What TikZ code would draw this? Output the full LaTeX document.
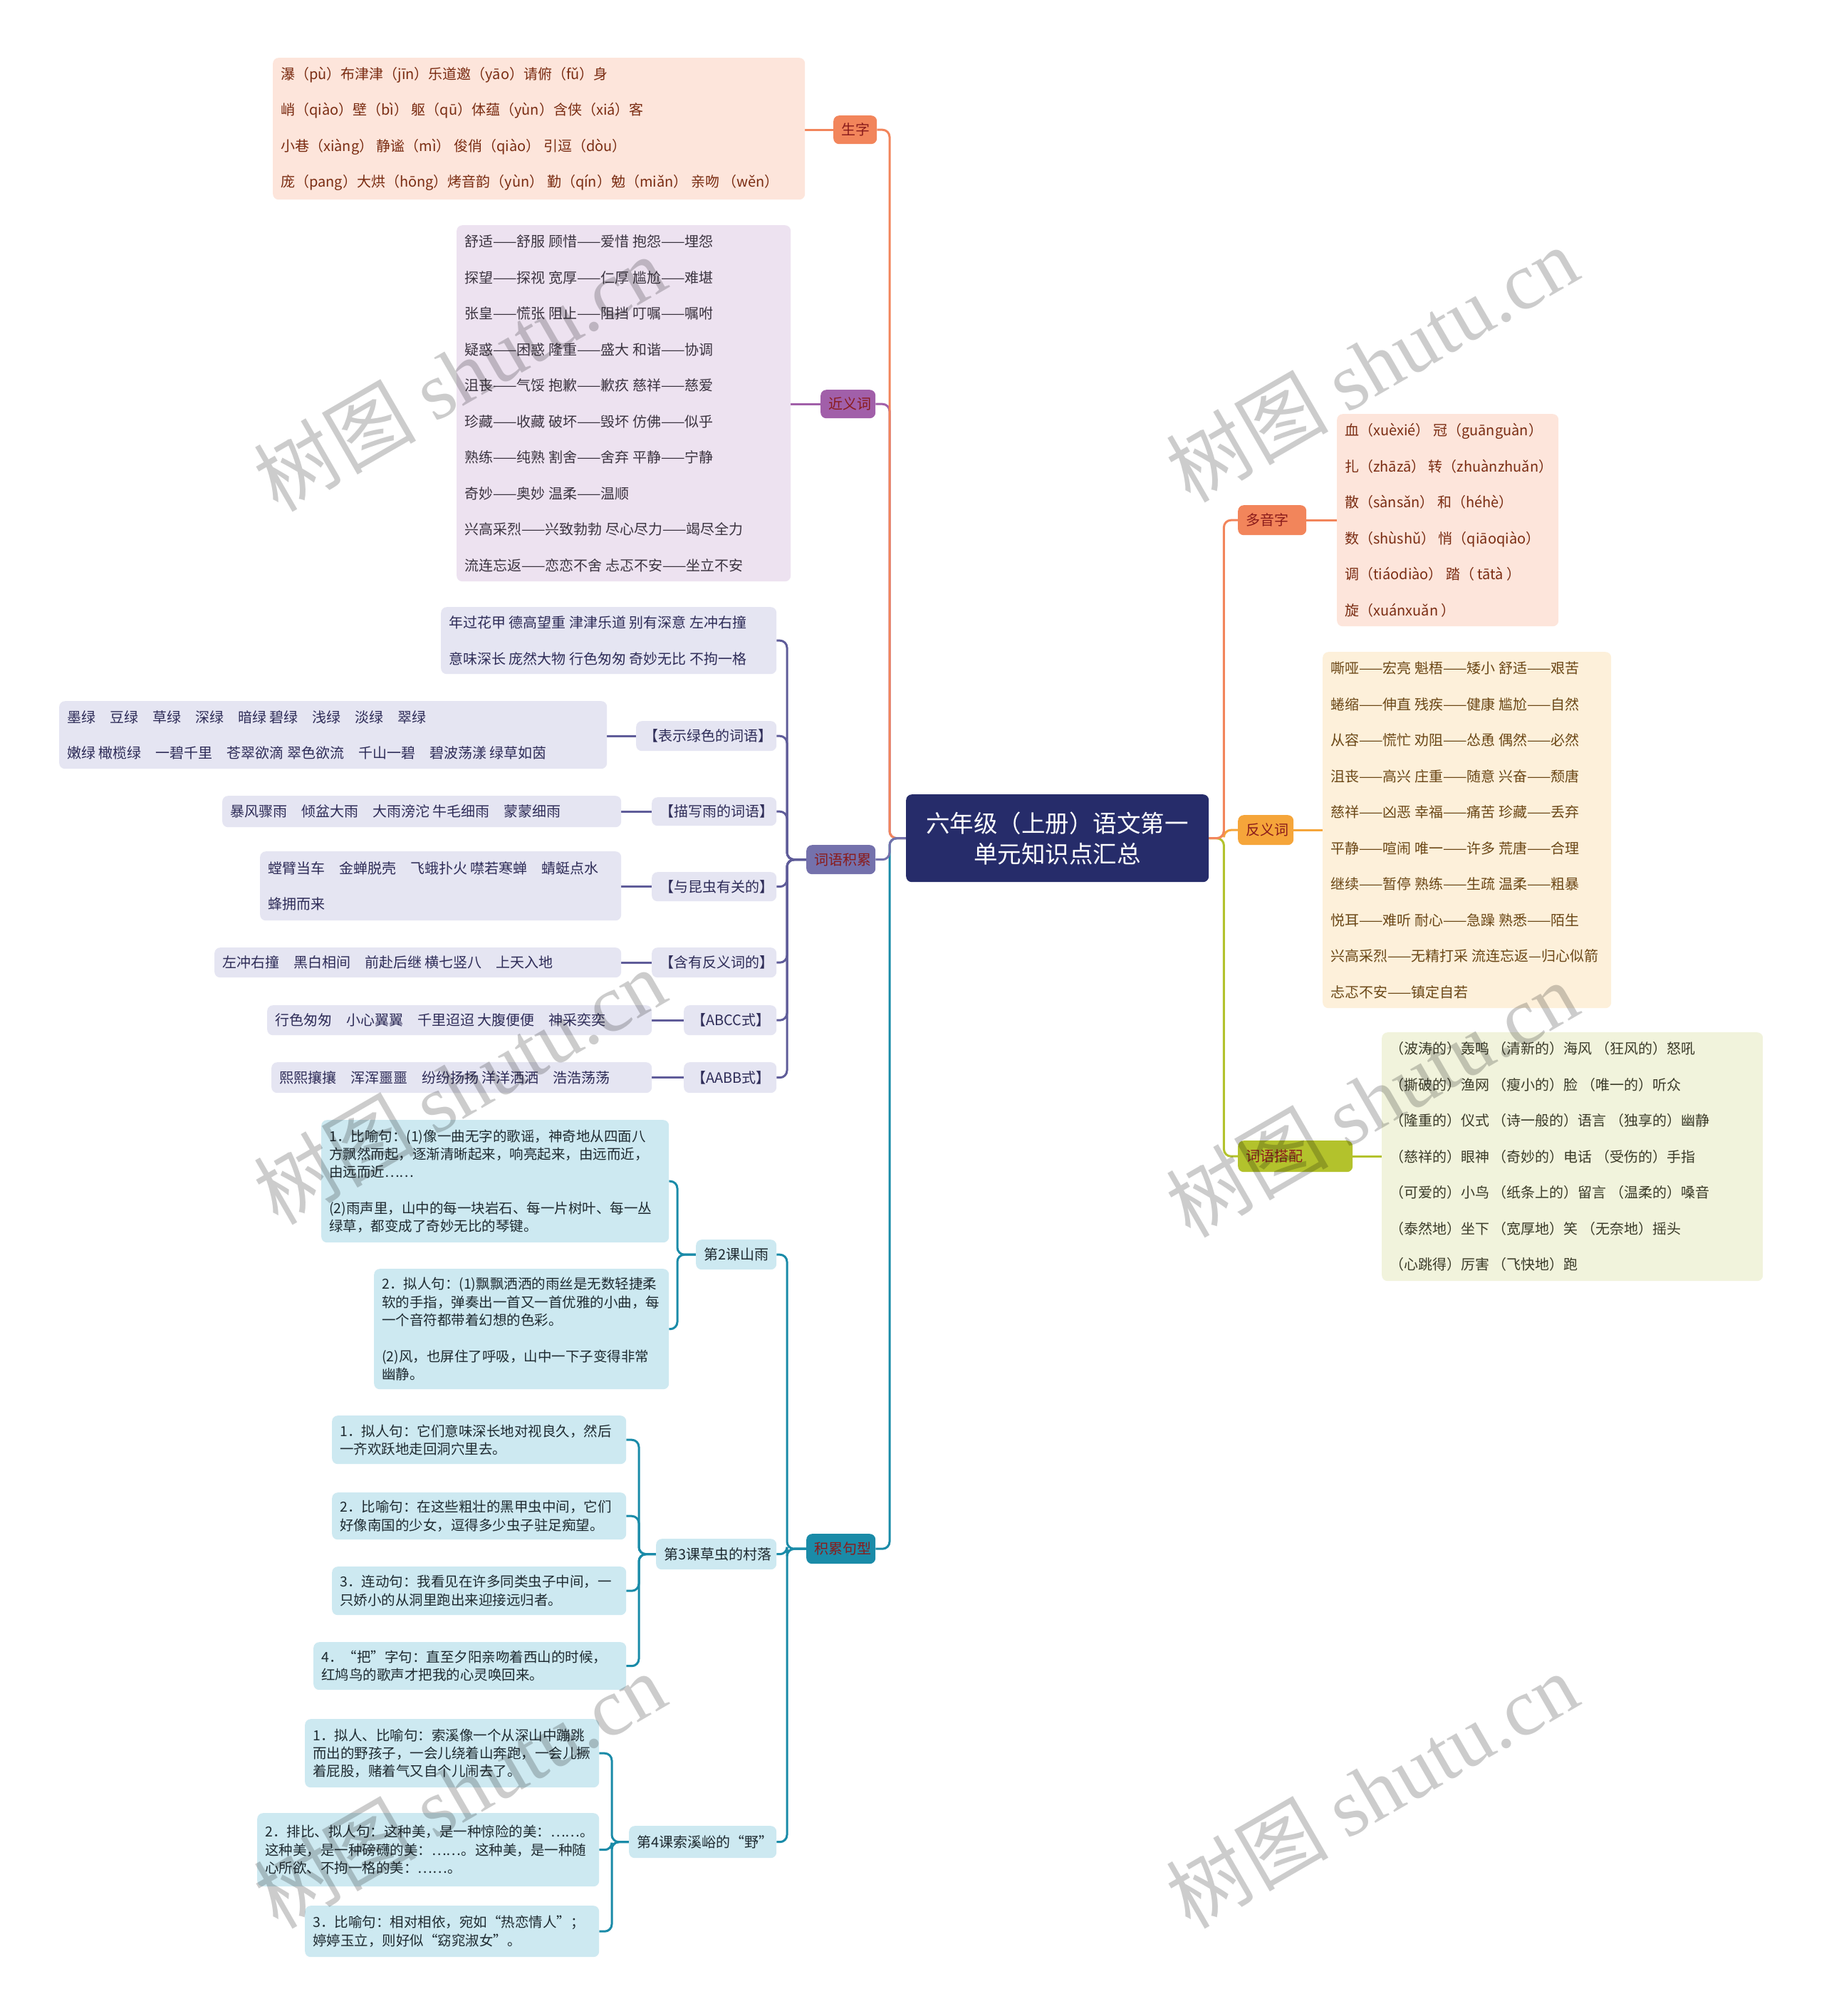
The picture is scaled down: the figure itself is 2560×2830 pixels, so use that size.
\documentclass[tikz,border=0pt]{standalone}
\usepackage{fontspec}
\setmainfont{Noto Sans CJK SC}
\newfontfamily\wmlatin{Liberation Serif}
\pgfdeclarelayer{bg}
\pgfsetlayers{bg,main}
\definecolor{navy}{HTML}{262C6A}
\definecolor{orangeA}{HTML}{F2855B}
\definecolor{peach}{HTML}{FDE5DB}
\definecolor{redtxt}{HTML}{7A2C12}
\definecolor{nodetxt}{HTML}{8A1B1B}
\definecolor{purpA}{HTML}{A15FA9}
\definecolor{lav}{HTML}{EDE2F0}
\definecolor{lavtxt}{HTML}{3B3440}
\definecolor{slateA}{HTML}{7471AC}
\definecolor{slateL}{HTML}{5F5C99}
\definecolor{slateBox}{HTML}{E5E5F2}
\definecolor{slatetxt}{HTML}{2E2C58}
\definecolor{tealA}{HTML}{1A8BA8}
\definecolor{tealBox}{HTML}{CDE9F1}
\definecolor{tealtxt}{HTML}{1E2A30}
\definecolor{amberA}{HTML}{F5A53A}
\definecolor{cream}{HTML}{FDF0DA}
\definecolor{browntxt}{HTML}{6B4716}
\definecolor{oliveA}{HTML}{B3C22C}
\definecolor{oliveBox}{HTML}{F1F3DC}
\definecolor{olivetxt}{HTML}{3A3A28}
\tikzset{
  boxbase/.style={anchor=north west, rounded corners=8pt, inner sep=0pt},
  wordfont/.style={font=\fontsize{20pt}{50.5pt}\selectfont},
  sentfont/.style={font=\fontsize{19.5pt}{25.3pt}\selectfont},
  labfont/.style={font=\fontsize{20pt}{24pt}\selectfont},
  conn/.style={line width=3pt, rounded corners=10pt},
  wmark/.style={rotate=30, text=black, opacity=0.2, inner sep=0pt, font=\fontsize{114pt}{116pt}\selectfont},
}
% #1 name, #2 x1, #3 y1, #4 x2, #5 y2, #6 box style, #7 text style, #8 text
\newcommand{\bx}[8]{%
  \pgfmathsetmacro\bxw{#4-#2}%
  \pgfmathsetmacro\bxh{#5-#3}%
  \node[boxbase,#6,minimum width=\bxw pt,minimum height=\bxh pt] (#1) at (#2,#3) {};%
  \node[anchor=west,inner sep=0pt,align=left,#7] (#1-t) at ([xshift=11pt]#1.west) {#8};%
}
\begin{document}
\begin{tikzpicture}[x=1pt,y=-1pt]
\useasboundingbox (0,0) rectangle (2560,2830);

% root
\node[boxbase, fill=navy, minimum width=425pt, minimum height=123pt, text=white, align=center,
  font=\fontsize{33.5pt}{43pt}\selectfont] (root) at (1272,1115) {六年级（上册）语文第一\\单元知识点汇总};

% main branch nodes
\bx{sz}{1170}{162}{1231}{202}{fill=orangeA}{labfont,text=nodetxt}{生字}
\bx{jyc}{1152}{547}{1229}{587}{fill=purpA}{labfont,text=nodetxt}{近义词}
\bx{cyjl}{1132}{1186}{1229}{1227}{fill=slateA}{labfont,text=nodetxt}{词语积累}
\bx{jljx}{1132}{2153}{1229}{2195}{fill=tealA}{labfont,text=nodetxt}{积累句型}
\bx{dyz}{1738}{709}{1834}{751}{fill=orangeA}{labfont,text=nodetxt}{多音字}
\bx{fyc}{1738}{1144}{1816}{1186}{fill=amberA}{labfont,text=nodetxt}{反义词}
\bx{cydp}{1738}{1601}{1899}{1645}{fill=oliveA}{labfont,text=nodetxt}{词语搭配}

% 生字 leaf
\bx{szleaf}{383}{81}{1130}{280}{fill=peach}{wordfont,text=redtxt}{%
瀑（pù）布津津（jīn）乐道邀（yāo）请俯（fǔ）身\\
峭（qiào）壁（bì） 躯（qū）体蕴（yùn）含侠（xiá）客\\
小巷（xiàng） 静谧（mì） 俊俏（qiào） 引逗（dòu）\\
庞（pang）大烘（hōng）烤音韵（yùn） 勤（qín）勉（miǎn） 亲吻 （wěn）}

% 近义词 leaf
\bx{jycleaf}{641}{316}{1110}{816}{fill=lav}{wordfont,text=lavtxt}{%
舒适——舒服 顾惜——爱惜 抱怨——埋怨\\
探望——探视 宽厚——仁厚 尴尬——难堪\\
张皇——慌张 阻止——阻挡 叮嘱——嘱咐\\
疑惑——困惑 隆重——盛大 和谐——协调\\
沮丧——气馁 抱歉——歉疚 慈祥——慈爱\\
珍藏——收藏 破坏——毁坏 仿佛——似乎\\
熟练——纯熟 割舍——舍弃 平静——宁静\\
奇妙——奥妙 温柔——温顺\\
兴高采烈——兴致勃勃 尽心尽力——竭尽全力\\
流连忘返——恋恋不舍 忐忑不安——坐立不安}

% 词语积累 children
\bx{w0}{619}{852}{1090}{946}{fill=slateBox}{wordfont,text=slatetxt}{%
年过花甲 德高望重 津津乐道 别有深意 左冲右撞\\
意味深长 庞然大物 行色匆匆 奇妙无比 不拘一格}
\bx{lgreen}{893}{1012}{1090}{1054}{fill=slateBox}{labfont,text=slatetxt}{【表示绿色的词语】}
\bx{green}{83}{984}{852}{1079}{fill=slateBox}{wordfont,text=slatetxt}{%
墨绿　豆绿　草绿　深绿　暗绿 碧绿　浅绿　淡绿　翠绿\\
嫩绿 橄榄绿　一碧千里　苍翠欲滴 翠色欲流　千山一碧　碧波荡漾 绿草如茵}
\bx{lrain}{915}{1119}{1090}{1159}{fill=slateBox}{labfont,text=slatetxt}{【描写雨的词语】}
\bx{rain}{312}{1117}{872}{1161}{fill=slateBox}{wordfont,text=slatetxt}{暴风骤雨　倾盆大雨　大雨滂沱 牛毛细雨　蒙蒙细雨}
\bx{linsect}{915}{1224}{1090}{1265}{fill=slateBox}{labfont,text=slatetxt}{【与昆虫有关的】}
\bx{insect}{365}{1195}{872}{1292}{fill=slateBox}{wordfont,text=slatetxt}{%
螳臂当车　金蝉脱壳　飞蛾扑火 噤若寒蝉　蜻蜓点水\\
蜂拥而来}
\bx{lanto}{915}{1330}{1090}{1372}{fill=slateBox}{labfont,text=slatetxt}{【含有反义词的】}
\bx{anto}{301}{1330}{872}{1372}{fill=slateBox}{wordfont,text=slatetxt}{左冲右撞　黑白相间　前赴后继 横七竖八　上天入地}
\bx{labcc}{960}{1411}{1090}{1453}{fill=slateBox}{labfont,text=slatetxt}{【ABCC式】}
\bx{abcc}{375}{1411}{915}{1453}{fill=slateBox}{wordfont,text=slatetxt}{行色匆匆　小心翼翼　千里迢迢 大腹便便　神采奕奕}
\bx{laabb}{960}{1491}{1090}{1534}{fill=slateBox}{labfont,text=slatetxt}{【AABB式】}
\bx{aabb}{381}{1491}{915}{1534}{fill=slateBox}{wordfont,text=slatetxt}{熙熙攘攘　浑浑噩噩　纷纷扬扬 洋洋洒洒　浩浩荡荡}

% 积累句型 children
\bx{k2}{977}{1740}{1090}{1782}{fill=tealBox}{labfont,text=tealtxt}{第2课山雨}
\bx{a1}{451}{1572}{939}{1744}{fill=tealBox}{sentfont,text=tealtxt}{%
1．比喻句：(1)像一曲无字的歌谣，神奇地从四面八\\
方飘然而起，逐渐清晰起来，响亮起来，由远而近，\\
由远而近……\\[25.3pt]
(2)雨声里，山中的每一块岩石、每一片树叶、每一丛\\
绿草，都变成了奇妙无比的琴键。}
\bx{a2}{525}{1781}{939}{1950}{fill=tealBox}{sentfont,text=tealtxt}{%
2．拟人句：(1)飘飘洒洒的雨丝是无数轻捷柔\\
软的手指，弹奏出一首又一首优雅的小曲，每\\
一个音符都带着幻想的色彩。\\[25.3pt]
(2)风，也屏住了呼吸，山中一下子变得非常\\
幽静。}
\bx{k3}{921}{2160}{1090}{2203}{fill=tealBox}{labfont,text=tealtxt}{第3课草虫的村落}
\bx{b1}{466}{1987}{879}{2055}{fill=tealBox}{sentfont,text=tealtxt}{%
1．拟人句：它们意味深长地对视良久，然后\\
一齐欢跃地走回洞穴里去。}
\bx{b2}{466}{2095}{879}{2161}{fill=tealBox}{sentfont,text=tealtxt}{%
2．比喻句：在这些粗壮的黑甲虫中间，它们\\
好像南国的少女，逗得多少虫子驻足痴望。}
\bx{b3}{466}{2199}{879}{2267}{fill=tealBox}{sentfont,text=tealtxt}{%
3．连动句：我看见在许多同类虫子中间，一\\
只娇小的从洞里跑出来迎接远归者。}
\bx{b4}{440}{2305}{879}{2372}{fill=tealBox}{sentfont,text=tealtxt}{%
4．“把”字句：直至夕阳亲吻着西山的时候，\\
红鸠鸟的歌声才把我的心灵唤回来。}
\bx{k4}{883}{2563}{1090}{2608}{fill=tealBox}{labfont,text=tealtxt}{第4课索溪峪的“野”}
\bx{c1}{428}{2413}{841}{2509}{fill=tealBox}{sentfont,text=tealtxt}{%
1．拟人、比喻句：索溪像一个从深山中蹦跳\\
而出的野孩子，一会儿绕着山奔跑，一会儿撅\\
着屁股，赌着气又自个儿闹去了。}
\bx{c2}{361}{2545}{841}{2648}{fill=tealBox}{sentfont,text=tealtxt}{%
2．排比、拟人句：这种美，是一种惊险的美：……。\\
这种美，是一种磅礴的美：……。这种美，是一种随\\
心所欲、不拘一格的美：……。}
\bx{c3}{428}{2675}{841}{2747}{fill=tealBox}{sentfont,text=tealtxt}{%
3．比喻句：相对相依，宛如“热恋情人”；\\
婷婷玉立，则好似“窈窕淑女”。}

% right leaves
\bx{dyzleaf}{1877}{581}{2188}{879}{fill=peach}{wordfont,text=redtxt}{%
血（xuèxié） 冠（guānguàn）\\
扎（zhāzā） 转（zhuànzhuǎn）\\
散（sànsǎn） 和（héhè）\\
数（shùshǔ） 悄（qiāoqiào）\\
调（tiáodiào） 踏（ tātà ）\\
旋（xuánxuǎn ）}
\bx{fycleaf}{1857}{915}{2262}{1415}{fill=cream}{wordfont,text=browntxt}{%
嘶哑——宏亮 魁梧——矮小 舒适——艰苦\\
蜷缩——伸直 残疾——健康 尴尬——自然\\
从容——慌忙 劝阻——怂恿 偶然——必然\\
沮丧——高兴 庄重——随意 兴奋——颓唐\\
慈祥——凶恶 幸福——痛苦 珍藏——丢弃\\
平静——喧闹 唯一——许多 荒唐——合理\\
继续——暂停 熟练——生疏 温柔——粗暴\\
悦耳——难听 耐心——急躁 熟悉——陌生\\
兴高采烈——无精打采 流连忘返—归心似箭\\
忐忑不安——镇定自若}
\bx{cydpleaf}{1940}{1449}{2475}{1798}{fill=oliveBox}{wordfont,text=olivetxt}{%
（波涛的）轰鸣 （清新的）海风 （狂风的）怒吼\\
（撕破的）渔网 （瘦小的）脸 （唯一的）听众\\
（隆重的）仪式 （诗一般的）语言 （独享的）幽静\\
（慈祥的）眼神 （奇妙的）电话 （受伤的）手指\\
（可爱的）小鸟 （纸条上的）留言 （温柔的）嗓音\\
（泰然地）坐下 （宽厚地）笑 （无奈地）摇头\\
（心跳得）厉害 （飞快地）跑}

\begin{pgfonlayer}{bg}
\fill[white] (0,0) rectangle (2560,2830);
% main connectors
\draw[conn, purpA] (root.west) -- ++(-23,0) |- (jyc.east);
\draw[conn, orangeA] (root.west) -- ++(-23,0) |- (sz.east);
\draw[conn, tealA] (root.west) -- ++(-23,0) |- (jljx.east);
\draw[conn, slateA] (root.west) -- ++(-23,0) |- (cyjl.east);
\draw[conn, oliveA] (root.east) -- ++(21,0) |- (cydp.west);
\draw[conn, amberA] (root.east) -- ++(21,0) |- (fyc.west);
\draw[conn, orangeA] (root.east) -- ++(21,0) |- (dyz.west);
% leaves of main
\draw[conn, orangeA] (sz.west) -- (sz.west -| szleaf.east);
\draw[conn, purpA] (jyc.west) -- (jyc.west -| jycleaf.east);
\draw[conn, orangeA] (dyz.east) -- (dyz.east -| dyzleaf.west);
\draw[conn, amberA] (fyc.east) -- (fyc.east -| fycleaf.west);
\draw[conn, oliveA] (cydp.east) -- (cydp.east -| cydpleaf.west);
% 词语积累
\foreach \c in {w0,lgreen,lrain,linsect,lanto,labcc,laabb}
  \draw[conn, slateL] (cyjl.west) -- ++(-27,0) |- (\c.east);
\draw[conn, slateL] (lgreen.west) -- (lgreen.west -| green.east);
\draw[conn, slateL] (lrain.west) -- (lrain.west -| rain.east);
\draw[conn, slateL] (linsect.west) -- (linsect.west -| insect.east);
\draw[conn, slateL] (lanto.west) -- (lanto.west -| anto.east);
\draw[conn, slateL] (labcc.west) -- (labcc.west -| abcc.east);
\draw[conn, slateL] (laabb.west) -- (laabb.west -| aabb.east);
% 积累句型
\foreach \c in {k2,k3,k4}
  \draw[conn, tealA] (jljx.west) -- ++(-27,0) |- (\c.east);
\foreach \c in {a1,a2}
  \draw[conn, tealA] (k2.west) -- ++(-26,0) |- (\c.east);
\foreach \c in {b1,b2,b3,b4}
  \draw[conn, tealA] (k3.west) -- ++(-24,0) |- (\c.east);
\foreach \c in {c1,c2,c3}
  \draw[conn, tealA] (k4.west) -- ++(-24,0) |- (\c.east);
\end{pgfonlayer}

% watermarks
\foreach \x/\y [count=\i] in {645/524, 1926/511, 645/1525, 1926/1543, 645/2513, 1926/2513}
  \node[wmark] (wm\i) at (\x,\y) {树图 {\wmlatin shutu.cn}};
\end{tikzpicture}
\end{document}
